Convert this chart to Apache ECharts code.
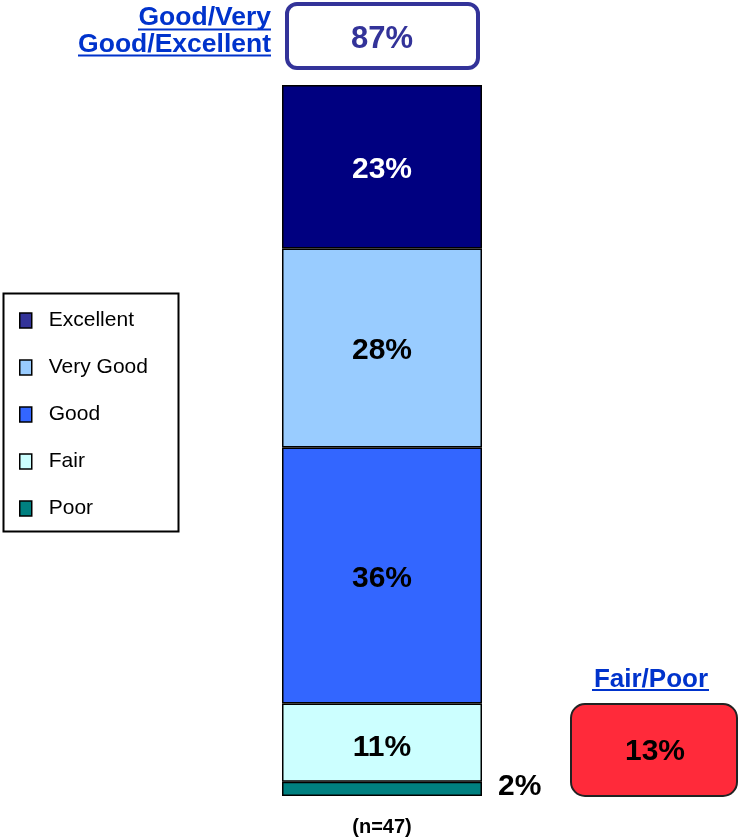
<!DOCTYPE html>
<html>
<head>
<meta charset="utf-8">
<script src="https://cdn.jsdelivr.net/npm/echarts@6/dist/echarts.min.js"></script>
<style>html,body{margin:0;padding:0;background:#fff}#c{width:738px;height:837px}</style>
</head>
<body>
<div id="c"></div>
<script>
const categories = ['(n=47)'];
const seriesNames = ['Poor', 'Fair', 'Good', 'Very Good', 'Excellent'];
const poor = [2];
const fair = [11];
const good = [36];
const veryGood = [28];
const excellent = [23];
const legendOrder = ['Excellent', 'Very Good', 'Good', 'Fair', 'Poor'];
const topNetLabel = ['Good/Very', 'Good/Excellent'];
const topNetValue = '87%';
const bottomNetLabel = 'Fair/Poor';
const bottomNetValue = '13%';

const colors = {
  'Excellent': '#000080',
  'Very Good': '#99CCFF',
  'Good': '#3366FF',
  'Fair': '#CCFFFF',
  'Poor': '#008080'
};
const legendColors = {
  'Excellent': '#333399',
  'Very Good': '#99CCFF',
  'Good': '#3366FF',
  'Fair': '#CCFFFF',
  'Poor': '#008080'
};
const values = { 'Poor': poor, 'Fair': fair, 'Good': good, 'Very Good': veryGood, 'Excellent': excellent };

const chart = echarts.init(document.getElementById('c'), null, { renderer: 'canvas' });
const FONT = 'Liberation Sans, Arial, sans-serif';

const series = seriesNames.map(name => {
  const isPoor = name === 'Poor';
  return {
    name: name,
    type: 'bar',
    stack: 'total',
    barWidth: 200,
    data: values[name],
    itemStyle: { color: colors[name], borderColor: '#000', borderWidth: 1.5 },
    label: {
      show: true,
      position: isPoor ? 'right' : 'inside',
      distance: isPoor ? 16 : 0,
      offset: isPoor ? [0, -2] : (name === 'Fair' ? [0, 5] : [0, 3]),
      formatter: p => p.value + '%',
      color: name === 'Excellent' ? '#fff' : '#000',
      fontSize: 30,
      fontWeight: 'bold',
      fontFamily: FONT
    },
    emphasis: { disabled: true }
  };
});

chart.setOption({
  animation: false,
  backgroundColor: '#fff',
  grid: { left: 282, width: 200, top: 85, bottom: 41, containLabel: false },
  xAxis: {
    type: 'category',
    data: categories,
    axisLine: { show: false },
    axisTick: { show: false },
    axisLabel: { show: true, color: '#000', fontSize: 20, fontWeight: 'bold', fontFamily: FONT, margin: 21 }
  },
  yAxis: { type: 'value', min: 0, max: 100, show: false, splitLine: { show: false } },
  legend: {
    orient: 'vertical',
    left: 19,
    top: 310,
    padding: 0,
    itemWidth: 12,
    itemHeight: 15,
    itemGap: 26,
    icon: 'rect',
    selectedMode: false,
    textStyle: { fontSize: 21, color: '#000', fontFamily: FONT, padding: [0, 0, 0, 12] },
    data: legendOrder.map(n => ({ name: n, itemStyle: { color: legendColors[n], borderColor: '#000', borderWidth: 1.5 } }))
  },
  series: series,
  graphic: [
    { type: 'rect', shape: { x: 3.5, y: 293.5, width: 175, height: 238 }, style: { fill: 'none', stroke: '#000', lineWidth: 2 }, z: 0 },
    { type: 'rect', shape: { x: 287, y: 4, width: 191, height: 64, r: 10 }, style: { fill: '#fff', stroke: '#333399', lineWidth: 4 } },
    { type: 'text', x: 382, y: 39, style: { text: topNetValue, fill: '#333399', font: 'bold 31px ' + FONT, textAlign: 'center', textVerticalAlign: 'middle' } },
    { type: 'text', x: 271, y: 18, style: { text: topNetLabel[0], fill: '#0033CC', font: 'bold 26.5px ' + FONT, textAlign: 'right', textVerticalAlign: 'middle' } },
    { type: 'text', x: 271, y: 45, style: { text: topNetLabel[1], fill: '#0033CC', font: 'bold 26.5px ' + FONT, textAlign: 'right', textVerticalAlign: 'middle' } },
    { type: 'line', shape: { x1: 138, y1: 29.5, x2: 271, y2: 29.5 }, style: { stroke: '#0033CC', lineWidth: 2 } },
    { type: 'line', shape: { x1: 78, y1: 55.5, x2: 271, y2: 55.5 }, style: { stroke: '#0033CC', lineWidth: 2 } },
    { type: 'rect', shape: { x: 571, y: 704, width: 166, height: 92, r: 14 }, style: { fill: '#FF2A3A', stroke: '#222', lineWidth: 2 } },
    { type: 'text', x: 655, y: 752, style: { text: bottomNetValue, fill: '#000', font: 'bold 30px ' + FONT, textAlign: 'center', textVerticalAlign: 'middle' } },
    { type: 'text', x: 651, y: 680, style: { text: bottomNetLabel, fill: '#0033CC', font: 'bold 26px ' + FONT, textAlign: 'center', textVerticalAlign: 'middle' } },
    { type: 'line', shape: { x1: 592, y1: 690, x2: 709, y2: 690 }, style: { stroke: '#0033CC', lineWidth: 2 } }
  ]
});
</script>
</body>
</html>
